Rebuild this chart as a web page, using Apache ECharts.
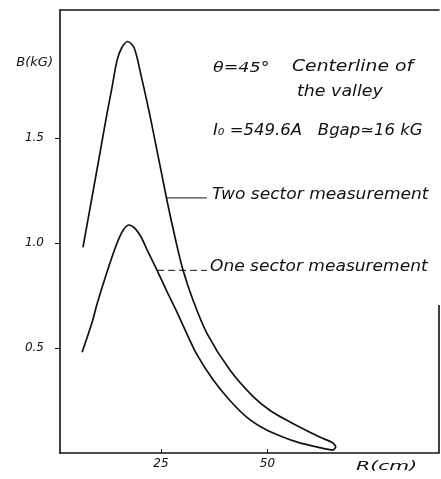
<!DOCTYPE html>
<html>
<head>
<meta charset="utf-8">
<script src="https://cdn.jsdelivr.net/npm/echarts@6/dist/echarts.min.js"></script>
<style>
  html, body { margin: 0; padding: 0; background: #fff; }
  #chart { width: 441px; height: 479px; }
</style>
</head>
<body>
<div id="chart"></div>
<script>
// Field along the valley centreline, R in cm, B in kG
var twoSectorR = [6.7, 8.7, 10.7, 12.1, 13.5, 14.7, 15.8, 17.2, 18.7, 20.1, 22.6, 26.4, 28.5, 30.2, 32.5, 35.8, 41.2, 46.6, 50.8, 55.3, 62.3, 65.4, 66.1];
var twoSectorB = [0.98, 1.205, 1.43, 1.59, 1.74, 1.87, 1.93, 1.96, 1.93, 1.82, 1.59, 1.205, 1.01, 0.87, 0.73, 0.57, 0.395, 0.27, 0.20, 0.148, 0.076, 0.048, 0.03];

var oneSectorR = [6.5, 8.8, 10.0, 12.3, 14.7, 16.1, 17.5, 18.9, 20.3, 21.7, 24.1, 26.4, 28.8, 31.1, 33.5, 37.2, 41.2, 45.2, 49.4, 53.6, 57.6, 61.6, 65.4, 66.1];
var oneSectorB = [0.48, 0.62, 0.71, 0.86, 1.00, 1.06, 1.086, 1.07, 1.03, 0.97, 0.87, 0.77, 0.67, 0.567, 0.467, 0.35, 0.25, 0.17, 0.114, 0.076, 0.048, 0.029, 0.014, 0.03];

// Leader lines from the curves to their captions
var leaderTwoR = [26.4, 35.8];
var leaderTwoB = [1.215, 1.215];
var leaderOneR = [24.1, 35.8];
var leaderOneB = [0.87, 0.87];

// Axis range and ticks
var rRange = [1.3, 90.3];
var bRange = [0, 2.11];
var rTicks = [25, 50];
var bTicks = [0.5, 1.0, 1.5];
var rightEdgeB = [0, 0.705];

function pairs(xs, ys) {
  return xs.map(function (x, i) { return [x, ys[i]]; });
}

var hand = 'DejaVu Sans';
var ink = '#111';

// hand-lettered caption: x = left edge, y = vertical centre
function note(text, x, y, stretch, size) {
  return {
    type: 'text', x: x, y: y, scaleX: stretch, scaleY: 1,
    style: {
      text: text, fill: ink, align: 'left', verticalAlign: 'middle',
      font: 'italic ' + (size || 15) + 'px "DejaVu Sans"'
    }
  };
}

var chart = echarts.init(document.getElementById('chart'), null, { renderer: 'canvas' });

var option = {
  backgroundColor: '#fff',
  animation: false,
  grid: { left: 60, top: 10, right: 2, bottom: 26, containLabel: false },
  xAxis: [{
    type: 'value',
    min: rRange[0],
    max: rRange[1],
    axisLine: { show: true, onZero: false, lineStyle: { color: ink, width: 1.6 } },
    axisTick: { show: true, inside: true, length: 4, customValues: rTicks, lineStyle: { color: ink, width: 1 } },
    axisLabel: { show: true, customValues: rTicks, margin: 5, color: ink, fontFamily: hand, fontStyle: 'italic', fontSize: 12, formatter: function (v) { return String(v); } },
    splitLine: { show: false }
  }, {
    type: 'value',
    position: 'top',
    min: rRange[0],
    max: rRange[1],
    axisLine: { show: true, onZero: false, lineStyle: { color: ink, width: 1.6 } },
    axisTick: { show: false },
    axisLabel: { show: false },
    splitLine: { show: false }
  }],
  yAxis: {
    type: 'value',
    min: bRange[0],
    max: bRange[1],
    name: 'B(kG)',
    nameLocation: 'end',
    nameGap: -53,
    nameTextStyle: { color: ink, fontFamily: hand, fontStyle: 'italic', fontSize: 13, align: 'right', verticalAlign: 'middle', padding: [0, 7, 0, 0] },
    axisLine: { show: true, onZero: false, lineStyle: { color: ink, width: 1.6 } },
    axisTick: { show: true, inside: false, length: 5, customValues: bTicks, lineStyle: { color: ink, width: 1 } },
    axisLabel: { show: true, customValues: bTicks, margin: 16, color: ink, fontFamily: hand, fontStyle: 'italic', fontSize: 12, formatter: function (v) { return v.toFixed(1); } },
    splitLine: { show: false }
  },
  series: [{
    name: 'Two sector measurement',
    type: 'line',
    data: pairs(twoSectorR, twoSectorB),
    smooth: 0.3,
    showSymbol: false,
    lineStyle: { color: ink, width: 1.7 },
    silent: true
  }, {
    name: 'One sector measurement',
    type: 'line',
    data: pairs(oneSectorR, oneSectorB),
    smooth: 0.3,
    showSymbol: false,
    lineStyle: { color: ink, width: 1.7 },
    silent: true
  }, {
    type: 'line',
    data: pairs(leaderTwoR, leaderTwoB),
    showSymbol: false,
    lineStyle: { color: ink, width: 1 },
    silent: true
  }, {
    type: 'line',
    data: pairs(leaderOneR, leaderOneB),
    showSymbol: false,
    lineStyle: { color: ink, width: 1, type: [7, 4] },
    silent: true
  }, {
    // partial right-hand frame edge
    type: 'line',
    data: pairs([rRange[1], rRange[1]], rightEdgeB),
    showSymbol: false,
    clip: false,
    lineStyle: { color: ink, width: 1.6 },
    silent: true
  }],
  graphic: [
    note('θ=45°', 213, 68, 1.25, 14),
    note('Centerline of', 292, 67, 1.25),
    note('the valley', 297, 92, 1.16),
    note('I₀ =549.6A   Bgap≃16 kG', 213, 131, 1.1),
    note('Two sector measurement', 212, 195, 1.137),
    note('One sector measurement', 210, 267, 1.136),
    note('R(cm)', 356, 467, 1.7, 12)
  ]
};

chart.setOption(option);
</script>
</body>
</html>
